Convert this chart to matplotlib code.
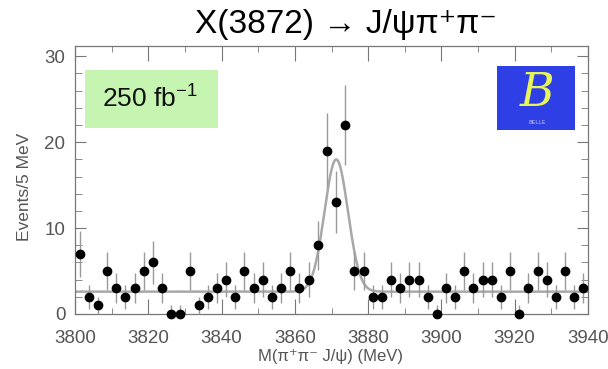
import numpy as np
import matplotlib
matplotlib.use("Agg")
import matplotlib.pyplot as plt
from matplotlib.ticker import MultipleLocator
from matplotlib.patches import Rectangle

# ---- data ----
x_start = 3800.0
bin_width = 2.5
counts = [7, 2, 1, 5, 3, 2, 3, 5, 6, 3, 0, 0, 5, 1, 2, 3, 4, 2,
          5, 3, 4, 2, 3, 5, 3, 4, 8, 19, 13, 22, 5, 5, 2, 2, 4, 3,
          4, 4, 2, 0, 3, 2, 5, 3, 4, 4, 2, 5, 0, 3, 5, 4, 2, 5, 2, 3]
# fit parameters (Gaussian signal on flat background)
fit_bkg = 2.6
fit_amp = 15.4
fit_mean = 3871.3
fit_sigma = 3.2

x_ticks = [3800, 3820, 3840, 3860, 3880, 3900, 3920, 3940]
y_ticks = [0, 10, 20, 30]

title = "X(3872) \u2192 J/\u03c8\u03c0\u207a\u03c0\u207b"
xlabel = "M(\u03c0\u207a\u03c0\u207b J/\u03c8) (MeV)"
ylabel = "Events/5 MeV"
lumi = "250 fb$^{-1}$"

plt.rcParams['font.family'] = ['Liberation Sans', 'DejaVu Sans']
plt.rcParams['mathtext.fontset'] = 'custom'
plt.rcParams['mathtext.rm'] = 'Liberation Sans'
plt.rcParams['mathtext.it'] = 'Liberation Sans'

W, H = 608, 369
fig = plt.figure(figsize=(W / 100, H / 100), dpi=100)
ax = fig.add_axes([75 / W, 1 - 314 / H, (588 - 75) / W, (314 - 46) / H])

counts_a = np.array(counts, dtype=float)
centers = x_start + bin_width * (np.arange(len(counts_a)) + 0.5)
err_lo = np.sqrt(counts_a)
err_hi = np.where(counts_a > 0, np.sqrt(counts_a), 1.1)

ax.errorbar(centers, counts_a, yerr=[err_lo, err_hi], fmt='o', color='black',
            ms=6, ecolor='#9a9a9a', elinewidth=1.0, capsize=0, zorder=3,
            clip_on=False)

xf = np.linspace(3800, 3940, 1000)
yf = fit_bkg + fit_amp * np.exp(-0.5 * ((xf - fit_mean) / fit_sigma) ** 2)
ax.plot(xf, yf, color='#a8a8a8', lw=1.8, zorder=2)

ax.set_xlim(3800, 3940)
ax.set_ylim(0, 31.2)
ax.set_xticks(x_ticks)
ax.set_yticks(y_ticks)
ax.xaxis.set_minor_locator(MultipleLocator(10))
ax.yaxis.set_minor_locator(MultipleLocator(2))
ax.tick_params(which='both', direction='in', top=True, right=True,
               color='#777777', labelcolor='#555555', labelsize=13.5)
ax.tick_params(axis='x', which='major', length=11, pad=11.5)
ax.tick_params(axis='x', which='minor', length=4.5)
ax.tick_params(axis='y', which='major', length=8, pad=7)
ax.tick_params(axis='y', which='minor', length=5)
for s in ax.spines.values():
    s.set_color('#777777')
    s.set_linewidth(0.9)

fig.text(330 / W, 1 - 356 / H, xlabel, fontsize=12, color='#555555',
         ha='center', va='center')
fig.text(25 / W, 1 - 187 / H, ylabel, fontsize=12.5, color='#555555',
         ha='center', va='center', rotation=90)

fig.text(346 / W, 1 - 33 / H, title, fontsize=24, ha='center', va='baseline',
         color='black')

# luminosity box
fig.patches.append(Rectangle((85 / W, 1 - 128 / H), (218 - 85) / W, (128 - 70) / H,
                             transform=fig.transFigure, facecolor='#c6f5b2',
                             edgecolor='none', zorder=5))
fig.text(150 / W, 1 - 99 / H, lumi, fontsize=19, ha='center', va='center',
         color='#111111', zorder=6)

# Belle logo
fig.patches.append(Rectangle((497 / W, 1 - 130 / H), (575 - 497) / W, (130 - 66) / H,
                             transform=fig.transFigure, facecolor='#2f3fe6',
                             edgecolor='none', zorder=5))
fig.text(537 / W, 1 - 93 / H, "B", fontsize=34, ha='center', va='center',
         color='#e6f55a', family='DejaVu Serif', style='italic', zorder=6)
fig.text(537 / W, 1 - 122 / H, "BELLE", fontsize=4, ha='center', va='center',
         color='#c8c8ff', zorder=6)

fig.savefig("out.png", dpi=100)
